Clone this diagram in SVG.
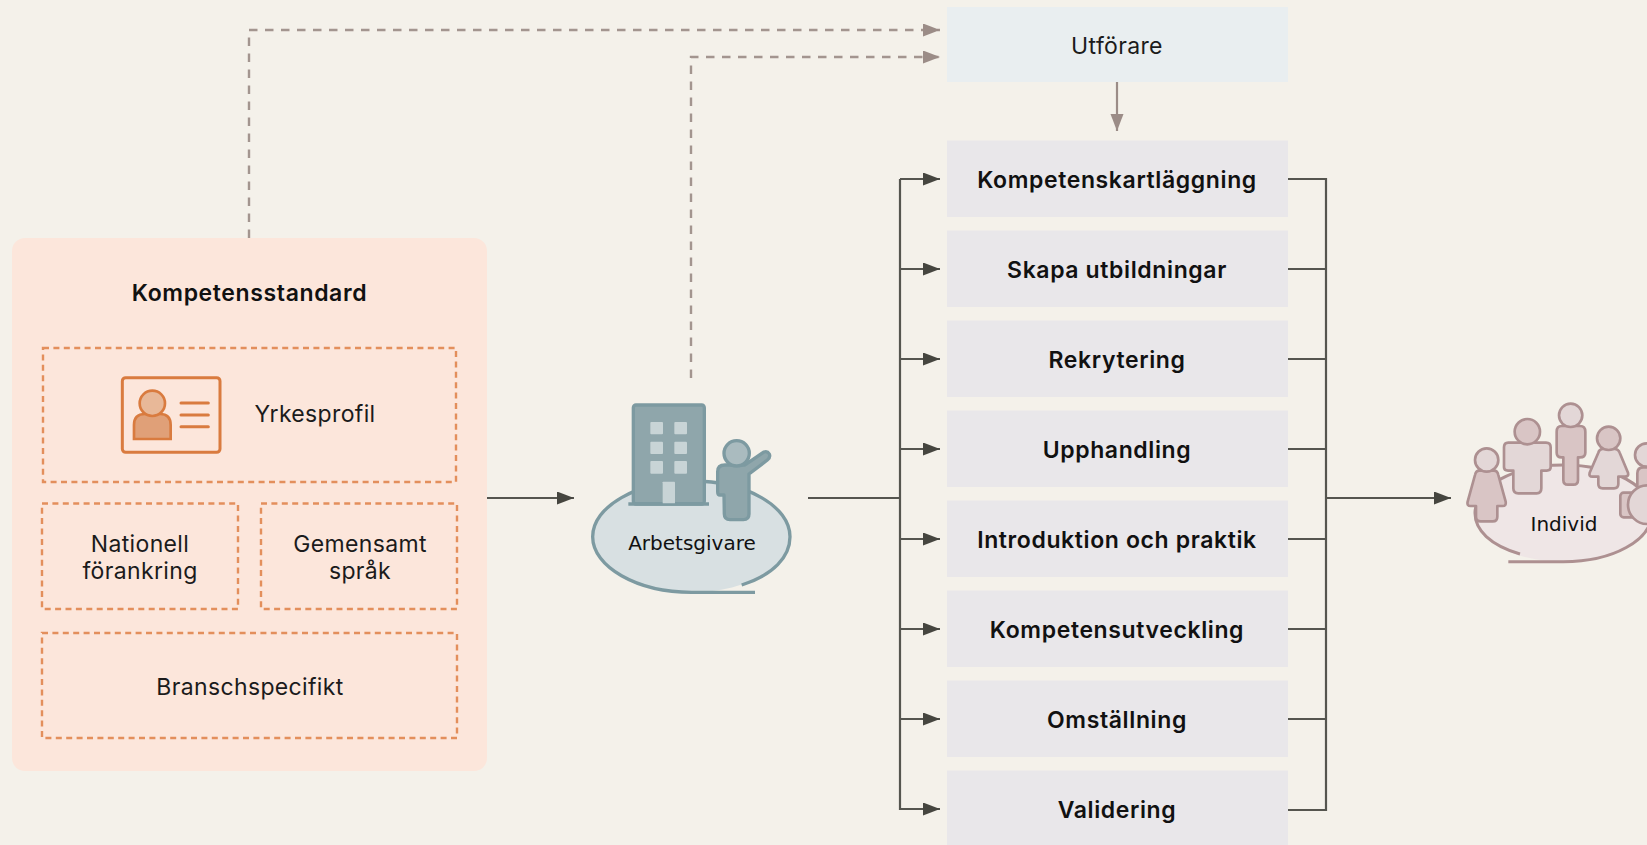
<svg xmlns="http://www.w3.org/2000/svg" width="1647" height="845" viewBox="0 0 1647 845">
<style>
text{font-family:"Inter","Liberation Sans",sans-serif;fill:#1b1b1b;text-anchor:middle}
.t{font-size:23px;font-weight:400;letter-spacing:.35px}
.b{font-size:23px;font-weight:600;letter-spacing:.62px;fill:#111}
.s{font-family:"DejaVu Sans","Liberation Sans",sans-serif;font-size:20px;fill:#111}
.dash{fill:none;stroke:#e38f5c;stroke-width:2.4;stroke-dasharray:6 4.400}
.box{fill:#e9e7ea}
.c{fill:none;stroke:#55554f;stroke-width:2.2}
.d{fill:none;stroke:#a3958f;stroke-width:2.4;stroke-dasharray:8.500 7.500}
.p1{fill:#d9c5c5;stroke:#ad9091;stroke-width:8;stroke-linejoin:round}
.p2{fill:#e3d7d7;stroke:#ad9091;stroke-width:8;stroke-linejoin:round}
.g{stroke:#7d9aa1;stroke-width:10;stroke-linejoin:round}
</style>
<defs>
<marker id="ad" markerUnits="userSpaceOnUse" markerWidth="18" markerHeight="14" refX="17" refY="6.5" orient="auto"><path d="M0,0L17,6.5L0,13Z" fill="#45453f"/></marker>
<marker id="ag" markerUnits="userSpaceOnUse" markerWidth="18" markerHeight="14" refX="17" refY="6.5" orient="auto"><path d="M0,0L17,6.5L0,13Z" fill="#9b8c87"/></marker>
</defs>
<rect width="1647" height="845" fill="#f4f1ea"/>
<g id="connectors">
<path class="d" d="M249,238V30H940" marker-end="url(#ag)"/>
<path class="d" d="M691,378V57H940" marker-end="url(#ag)"/>
<path d="M1117,82V131" fill="none" stroke="#9b8c87" stroke-width="2.2" marker-end="url(#ag)"/>
<path class="c" d="M487,498H574" marker-end="url(#ad)"/>
<path class="c" d="M808,498H900"/>
<path class="c" d="M900,179H940" marker-end="url(#ad)"/>
<path class="c" d="M900,179V809H940" marker-end="url(#ad)"/>
<path class="c" d="M900,269H940" marker-end="url(#ad)"/>
<path class="c" d="M900,359H940" marker-end="url(#ad)"/>
<path class="c" d="M900,449H940" marker-end="url(#ad)"/>
<path class="c" d="M900,539H940" marker-end="url(#ad)"/>
<path class="c" d="M900,629H940" marker-end="url(#ad)"/>
<path class="c" d="M900,719H940" marker-end="url(#ad)"/>
<path class="c" d="M1288,179H1326V810H1288"/>
<path class="c" d="M1288,269H1326M1288,359H1326M1288,449H1326M1288,539H1326M1288,629H1326M1288,719H1326"/>
<path class="c" d="M1326,498H1451" marker-end="url(#ad)"/>
</g>
<g id="kompetensstandard">
<rect x="12" y="238" width="475" height="533" rx="13" fill="#fce6db"/>
<text class="b" x="249.500" y="300.500">Kompetensstandard</text>
</g>
<g id="yrkesprofil">
<rect class="dash" x="43" y="348" width="413" height="134"/>
<g transform="translate(0,220) scale(.33333)">
<rect x="367" y="473" width="293" height="224" rx="10" fill="none" stroke="#d97b3f" stroke-width="9"/>
<path d="M402,657V615Q402,582 435,582H480Q512,582 512,615V657Z" fill="#e0a078" stroke="#d97b3f" stroke-width="8"/>
<circle cx="457" cy="550" r="38" fill="#e8b898" stroke="#d97b3f" stroke-width="8"/>
<path d="M543,549H625M543,585H625M543,620H625" stroke="#d97b3f" stroke-width="9" stroke-linecap="round"/>
</g>
<text class="t" x="315" y="422">Yrkesprofil</text>
</g>
<g id="nationell">
<rect class="dash" x="42" y="503.500" width="196" height="105.500"/>
<text class="t" x="140" y="552">Nationell</text>
<text class="t" x="140" y="579">förankring</text>
</g>
<g id="gemensamt">
<rect class="dash" x="261" y="503.500" width="196" height="105.500"/>
<text class="t" x="360" y="552">Gemensamt</text>
<text class="t" x="360" y="579">språk</text>
</g>
<g id="branschspecifikt">
<rect class="dash" x="42" y="633" width="415" height="105"/>
<text class="t" x="250" y="695">Branschspecifikt</text>
</g>
<g id="arbetsgivare">
<g transform="translate(560,360) scale(.33333)">
<path d="M98,530C98,440 230,363 395,363C560,363 690,440 690,530C690,620 560,697 395,697C230,697 98,620 98,530Z" fill="#d8e0e2"/>
<path class="g" fill="none" d="M545,675C640,645 690,590 690,530C690,440 560,363 395,363C230,363 98,440 98,530C98,620 230,697 395,697H585"/>
<rect class="g" x="220" y="135" width="213" height="297" rx="8" fill="#8fa6ab" stroke-width="6"/>
<path class="g" d="M205,432H447" fill="none" stroke-width="7"/>
<g fill="#c8d4d6">
<rect x="271" y="186" width="38" height="37" rx="3"/><rect x="343" y="186" width="38" height="37" rx="3"/>
<rect x="271" y="245" width="38" height="37" rx="3"/><rect x="343" y="245" width="38" height="37" rx="3"/>
<rect x="271" y="303" width="38" height="38" rx="3"/><rect x="343" y="303" width="38" height="38" rx="3"/>
<rect x="308" y="365" width="37" height="65" rx="2"/>
</g>
<path class="g" fill="#8fa6ab" stroke-width="7" d="M492,405H480Q473,405 473,395V335Q473,315 495,315H555L612,276Q622,272 628,282Q632,292 622,300L567,342V462Q567,479 550,479H510Q493,479 493,462Z"/>
<circle class="g" cx="530" cy="280" r="38" fill="#aabbbf" stroke-width="7"/>
</g>
<text class="s" x="692" y="550">Arbetsgivare</text>
</g>
<g id="utforare">
<rect x="947" y="7" width="341" height="75" fill="#e9eef0"/>
<text class="t" x="1117" y="54">Utförare</text>
</g>
<g id="n1"><rect class="box" x="947" y="140.500" width="341" height="76.500"/><text class="b" x="1117" y="188">Kompetenskartläggning</text></g>
<g id="n2"><rect class="box" x="947" y="230.500" width="341" height="76.500"/><text class="b" x="1117" y="277.500">Skapa utbildningar</text></g>
<g id="n3"><rect class="box" x="947" y="320.500" width="341" height="76.500"/><text class="b" x="1117" y="367.500">Rekrytering</text></g>
<g id="n4"><rect class="box" x="947" y="410.500" width="341" height="76.500"/><text class="b" x="1117" y="457.500">Upphandling</text></g>
<g id="n5"><rect class="box" x="947" y="500.500" width="341" height="76.500"/><text class="b" x="1117" y="547.500">Introduktion och praktik</text></g>
<g id="n6"><rect class="box" x="947" y="590.500" width="341" height="76.500"/><text class="b" x="1117" y="637.500">Kompetensutveckling</text></g>
<g id="n7"><rect class="box" x="947" y="680.500" width="341" height="76.500"/><text class="b" x="1117" y="727.500">Omställning</text></g>
<g id="n8"><rect class="box" x="947" y="770.500" width="341" height="76.500"/><text class="b" x="1117" y="817.500">Validering</text></g>
<g id="individ">
<g transform="translate(1440,380) scale(.33333)">
<path d="M105,400C105,320 220,255 370,255C520,255 635,320 635,400C635,480 520,545 370,545C220,545 105,480 105,400Z" fill="#efe6e6"/>
<path fill="none" stroke="#ad9091" stroke-width="9" d="M240,522C150,495 105,450 105,400C105,320 220,255 370,255C520,255 635,320 635,400C635,480 520,545 370,545H205"/>
<path class="p1" d="M118,272H162Q172,272 175,285L197,365Q199,378 188,378H172V410Q172,424 158,424H122Q108,424 108,410V378H92Q80,378 83,365L105,285Q108,272 118,272Z"/>
<circle class="p2" cx="140" cy="240" r="35"/>
<path class="p2" d="M205,188H318Q332,188 332,202V262Q332,272 320,272H304V325Q304,340 290,340H235Q220,340 220,325V272H204Q192,272 192,262V202Q192,188 205,188Z"/>
<circle class="p1" cx="262" cy="155" r="38"/>
<path class="p1" d="M365,138H420Q436,138 436,155V218Q436,232 420,232H414V300Q414,314 400,314H384Q370,314 370,300V232H365Q350,232 350,218V155Q350,138 365,138Z"/>
<circle class="p2" cx="392" cy="106" r="35"/>
<path class="p2" d="M488,207H525Q535,207 539,218L564,278Q567,290 555,290H535V312Q535,325 522,325H488Q475,325 475,312V290H457Q446,290 449,278L475,218Q478,207 488,207Z"/>
<circle class="p1" cx="506" cy="175" r="35"/>
<path class="p1" d="M610,262H640V340H592V280Q592,262 610,262Z"/>
<circle class="p2" cx="620" cy="225" r="35"/>
<rect class="p1" x="541" y="338" width="60" height="74" rx="10"/>
<circle class="p2" cx="622" cy="374" r="58"/>
</g>
<text class="s" x="1564" y="531">Individ</text>
</g>
</svg>
